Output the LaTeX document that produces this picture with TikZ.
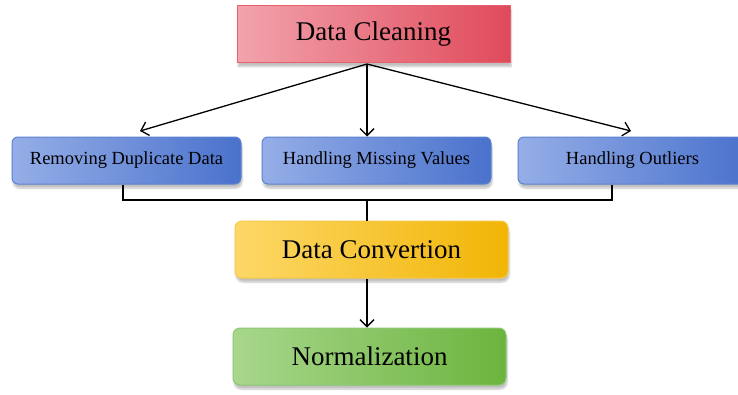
\documentclass[tikz,border=0pt]{standalone}
\usepackage{fontspec}
\setmainfont{Liberation Serif}
\usetikzlibrary{arrows.meta,shadows.blur,calc}
\definecolor{redL}{HTML}{F2A3AD}
\definecolor{redR}{HTML}{E04A5B}
\definecolor{redB}{HTML}{E8606E}
\definecolor{bluL}{HTML}{95AEE7}
\definecolor{bluR}{HTML}{4A72CC}
\definecolor{bluB}{HTML}{5D82D2}
\definecolor{yelL}{HTML}{FDD868}
\definecolor{yelR}{HTML}{F1B505}
\definecolor{yelB}{HTML}{F6C844}
\definecolor{grnL}{HTML}{A8D78C}
\definecolor{grnR}{HTML}{6CB43E}
\definecolor{grnB}{HTML}{8DC873}
\tikzset{
  boxbase/.style={rectangle, inner sep=0pt, text=black,
    blur shadow={shadow xshift=1pt, shadow yshift=-4pt, shadow blur steps=6, shadow opacity=25}},
  bigbox/.style={boxbase, minimum width=273pt, minimum height=57pt, font=\fontsize{27}{30}\selectfont},
  smallbox/.style={boxbase, rounded corners=6pt, minimum width=229pt, minimum height=47pt, font=\fontsize{18.5}{21}\selectfont, left color=bluL, right color=bluR, draw=bluB, line width=1pt},
  conn/.style={draw=black, line width=1.3pt},
  arr/.style={conn, -{Straight Barb[length=7pt,width=14pt,line width=1.3pt]}},
}
\begin{document}
\begin{tikzpicture}[x=1pt,y=-1pt]
\useasboundingbox (0,0) rectangle (738,394);
\node[bigbox, left color=redL, right color=redR, draw=redB, line width=1pt] (clean) at (373.5,34) {Data Cleaning};
\node[smallbox] (dup) at (126.5,160.5) {Removing Duplicate Data};
\node[smallbox] (miss) at (376.5,160.5) {Handling Missing Values};
\node[smallbox] (out) at (632.5,160.5) {Handling Outliers};
\node[bigbox, rounded corners=7pt, left color=yelL, right color=yelR, draw=yelB, line width=1pt] (conv) at (371.5,249.5) {Data Convertion};
\node[bigbox, rounded corners=7pt, left color=grnL, right color=grnR, draw=grnB, line width=1pt] (norm) at (369.5,356.5) {Normalization};
% fan-out arrows
\coordinate (src) at (367,64);
\coordinate (tl) at (140,131);
\coordinate (tr) at (631,131);
\draw[arr] (src) -- (tl);
\draw[arr] (src) -- (src |- miss.north);
\draw[arr] (src) -- (tr);
% merge connector
\coordinate (jl) at (123,200);
\coordinate (jr) at (612,200);
\coordinate (jm) at (367,200);
\draw[conn] (jl |- dup.south) -- (jl) -- (jr) -- (jr |- out.south);
\draw[conn] (jm) -- (jm |- conv.north);
\draw[arr] (367,0 |- conv.south) -- (367,0 |- norm.north);
\end{tikzpicture}
\end{document}
